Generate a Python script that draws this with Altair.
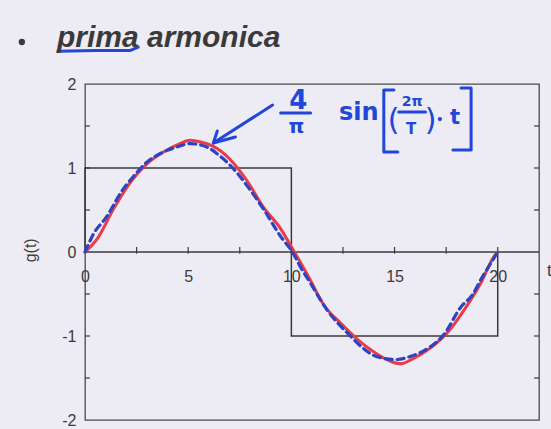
import altair as alt
import pandas as pd

# Square wave g(t) with period T = 20
square_t = [0, 0, 10, 10, 20, 20]
square_g = [0, 1, 1, -1, -1, 0]

# First harmonic (4/pi) sin(2 pi t / T), red trace
red_t = [0, 0.6, 1.4, 2.2, 3.0, 3.8, 4.6, 5.1, 5.6, 6.2, 7.0, 7.9, 8.6, 9.5,
         10.1, 10.8, 11.6, 12.4, 13.2, 14.0, 14.8, 15.3, 15.9, 16.7, 17.6,
         18.4, 19.2, 19.8, 20.0]
red_g = [0, 0.16, 0.52, 0.83, 1.05, 1.19, 1.29, 1.33, 1.31, 1.26, 1.11, 0.83,
         0.55, 0.27, 0.02, -0.28, -0.64, -0.85, -1.04, -1.19, -1.30, -1.33,
         -1.27, -1.15, -0.95, -0.68, -0.36, -0.06, 0.0]

# First harmonic, blue dashed trace
blue_t = [0, 0.4, 1.05, 1.8, 2.35, 3.0, 3.8, 4.45, 5.1, 5.9, 6.55, 7.2, 7.85,
          8.65, 9.47, 10.1, 10.4, 10.9, 11.7, 12.9, 13.4, 14.2, 15.1, 15.8,
          16.6, 17.4, 18.2, 18.8, 19.2, 19.7, 20.0]
blue_g = [0, 0.21, 0.42, 0.73, 0.90, 1.07, 1.19, 1.25, 1.29, 1.25, 1.14, 0.99,
          0.79, 0.51, 0.19, -0.02, -0.16, -0.36, -0.68, -1.01, -1.13, -1.25,
          -1.28, -1.24, -1.15, -0.98, -0.66, -0.5, -0.32, -0.12, 0.0]

x_labels = [0, 5, 10, 15, 20]
y_labels = [-2, -1, 0, 1, 2]
x_minor = [2.5, 5, 7.5, 10, 12.5, 15, 17.5, 20]
y_minor = [-1.5, -1, -0.5, 0.5, 1, 1.5]

INK = "#2146d8"
GRAY = "#3a3a3a"
FONT = "Liberation Sans"

xs = alt.Scale(domain=[0, 22], nice=False, zero=False)
ys = alt.Scale(domain=[-2, 2], nice=False, zero=False)

# the x labels sit just under the zero line, inside the frame
x_axis = alt.Axis(values=x_labels, domain=False, ticks=False, grid=False,
                  labelFontSize=16, labelFont=FONT, labelColor=GRAY,
                  labelPadding=16, offset=-168, title=None, labelFlush=False,
                  labelExpr="datum.value + ''")
y_axis = alt.Axis(values=y_labels, domain=False, ticks=False, grid=False,
                  labelFontSize=16, labelFont=FONT, labelColor=GRAY,
                  labelPadding=9, title=None, labelFlush=False,
                  labelExpr="datum.value + ''")


def X(field="t"):
    return alt.X(f"{field}:Q", scale=xs, axis=x_axis, title=None)


def Y(field="g"):
    return alt.Y(f"{field}:Q", scale=ys, axis=y_axis, title=None)


sq = pd.DataFrame({"t": square_t, "g": square_g, "i": range(len(square_t))})
red = pd.DataFrame({"t": red_t, "g": red_g})
blue = pd.DataFrame({"t": blue_t, "g": blue_g})

square = alt.Chart(sq).mark_line(color=GRAY, strokeWidth=1.5).encode(
    x=X(), y=Y(), order="i:O")

# zero line across the frame
zero = alt.Chart(pd.DataFrame({"t": [0], "t2": [22], "g": [0]})).mark_rule(
    color=GRAY, strokeWidth=1.3).encode(x=X(), x2="t2:Q", y=Y())

# ticks on the zero line
xt = pd.DataFrame({"t": x_minor, "g": [-0.02] * len(x_minor), "g2": [0.06] * len(x_minor)})
xticks = alt.Chart(xt).mark_rule(color=GRAY, strokeWidth=1.2).encode(
    x=X(), y=Y(), y2="g2:Q")

# inward ticks on the left and right frame
yt = pd.DataFrame({
    "t": [0.0] * len(y_minor) + [21.76] * len(y_minor),
    "t2": [0.24] * len(y_minor) + [22.0] * len(y_minor),
    "g": y_minor + y_minor,
})
yticks = alt.Chart(yt).mark_rule(color=GRAY, strokeWidth=1.2).encode(
    x=X(), x2="t2:Q", y=Y())

red_line = alt.Chart(red).mark_line(
    color="#ee3a46", strokeWidth=3, interpolate="monotone").encode(x=X(), y=Y())
blue_line = alt.Chart(blue).mark_line(
    color="#2b44c6", strokeWidth=3.2, strokeDash=[7, 5], strokeCap="round",
    interpolate="monotone").encode(x=X(), y=Y())

# handwritten strokes: arrow, fraction bars, brackets, underline
strokes = [
    ("arrow", [(9.09, 1.75), (6.22, 1.298)]),
    ("head1", [(6.41, 1.44), (6.22, 1.298), (7.29, 1.369)]),
    ("bar1", [(9.48, 1.655), (10.93, 1.655)]),
    ("bar2", [(15.2, 1.667), (16.5, 1.667)]),
    ("lbr", [(14.97, 1.929), (14.48, 1.929), (14.48, 1.19), (15.16, 1.19)]),
    ("rbr", [(18.22, 1.952), (18.71, 1.952), (18.71, 1.214), (17.83, 1.214)]),
    ("under", [(-1.31, 2.39), (0.5, 2.40), (2.2, 2.40), (2.58, 2.44)]),
]
rows = []
for name, pts in strokes:
    for k, (t, g) in enumerate(pts):
        rows.append({"grp": name, "i": k, "t": t, "g": g})
ink = alt.Chart(pd.DataFrame(rows)).mark_line(
    color=INK, strokeWidth=3, strokeCap="round", strokeJoin="round").encode(
    x=X(), y=Y(), detail="grp:N", order="i:O")

formula = pd.DataFrame({
    "s": ["4", "π", "sin", "(", "2π", "T", ")", "t"],
    "t": [10.33, 10.25, 13.27, 14.95, 15.85, 15.8, 16.75, 17.93],
    "g": [1.80, 1.49, 1.655, 1.56, 1.79, 1.46, 1.56, 1.595],
    "fs": [26, 20, 24, 30, 14, 15, 30, 21],
    "w": ["bold", "bold", "bold", "normal", "bold", "bold", "normal", "bold"],
})
formula_bold = alt.Chart(formula[formula.w == "bold"]).mark_text(
    color=INK, font="DejaVu Sans", fontWeight="bold", baseline="middle").encode(
    x=X(), y=Y(), text="s:N", size=alt.Size("fs:Q", scale=None))
formula_thin = alt.Chart(formula[formula.w == "normal"]).mark_text(
    color=INK, font="DejaVu Sans", baseline="middle").encode(
    x=X(), y=Y(), text="s:N", size=alt.Size("fs:Q", scale=None))

dot = alt.Chart(pd.DataFrame({"t": [17.2], "g": [1.583]})).mark_point(
    filled=True, color=INK, size=18, opacity=1).encode(x=X(), y=Y())

heading = alt.Chart(pd.DataFrame({"t": [-1.36], "g": [2.44], "s": ["prima armonica"]})).mark_text(
    font=FONT, fontSize=30, fontWeight="bold", fontStyle="italic", color=GRAY,
    align="left", baseline="alphabetic").encode(x=X(), y=Y(), text="s:N")
bullet = alt.Chart(pd.DataFrame({"t": [-3.06], "g": [2.5]})).mark_point(
    filled=True, color=GRAY, size=40, opacity=1).encode(x=X(), y=Y())

ylab = alt.Chart(pd.DataFrame({"t": [-2.6], "g": [0.02], "s": ["g(t)"]})).mark_text(
    font=FONT, fontSize=16, color=GRAY, angle=270, baseline="middle").encode(
    x=X(), y=Y(), text="s:N")
xlab = alt.Chart(pd.DataFrame({"t": [22.5], "g": [-0.226], "s": ["t"]})).mark_text(
    font=FONT, fontSize=17, color=GRAY, baseline="middle").encode(
    x=X(), y=Y(), text="s:N")

chart = alt.layer(
    square, zero, xticks, yticks, red_line, blue_line, ink, formula_bold,
    formula_thin, dot, heading, bullet, ylab, xlab,
).properties(
    width=454, height=336,
    padding={"left": 85, "top": 84, "right": 12, "bottom": 9},
    autosize=alt.AutoSizeParams(type="none"),
    background="#edebf3",
).configure_view(stroke="#4a4a4a", strokeWidth=1.3)

chart.save("out.html", embed_options={"renderer": "svg", "actions": False})
